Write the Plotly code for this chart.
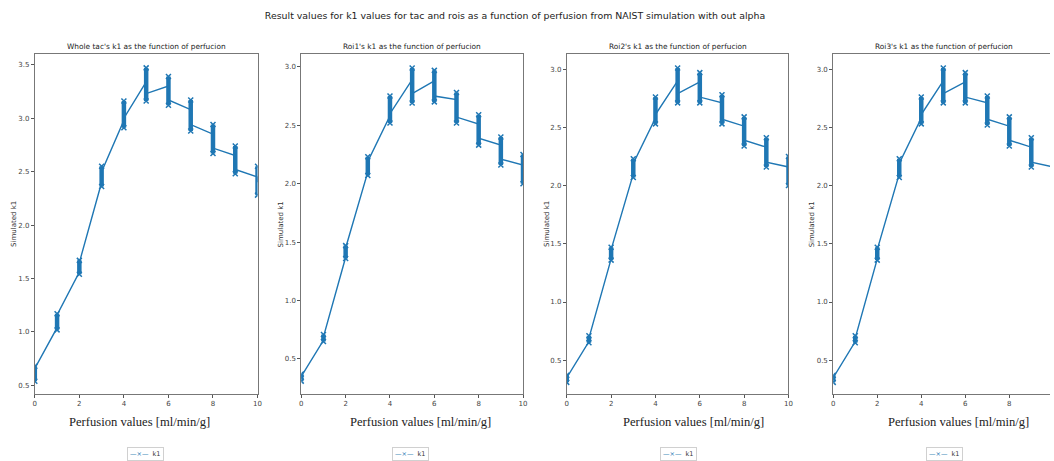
import plotly.graph_objects as go

perfusion = [0, 1, 2, 3, 4, 5, 6, 7, 8, 9, 10]

panel_titles = [
    "Whole tac's k1 as the function of perfucion",
    "Roi1's k1 as the function of perfucion",
    "Roi2's k1 as the function of perfucion",
    "Roi3's k1 as the function of perfucion",
]
series_name = "k1"

# spread of k1 at each perfusion value (min / max) and where the line enters / leaves it
whole_low = [0.54, 1.02, 1.54, 2.36, 2.91, 3.16, 3.12, 2.88, 2.67, 2.48, 2.28]
whole_high = [0.68, 1.17, 1.67, 2.55, 3.16, 3.47, 3.39, 3.17, 2.94, 2.74, 2.55]
whole_in = [0.62, 1.04, 1.56, 2.40, 2.98, 3.34, 3.30, 3.08, 2.85, 2.65, 2.45]
whole_out = [0.66, 1.16, 1.65, 2.50, 3.00, 3.23, 3.17, 2.94, 2.72, 2.52, 2.40]

roi1_low = [0.31, 0.65, 1.36, 2.07, 2.52, 2.69, 2.70, 2.52, 2.33, 2.16, 2.00]
roi1_high = [0.37, 0.71, 1.47, 2.23, 2.75, 2.99, 2.97, 2.78, 2.59, 2.40, 2.25]
roi1_in = [0.33, 0.66, 1.37, 2.10, 2.58, 2.89, 2.88, 2.72, 2.51, 2.33, 2.16]
roi1_out = [0.35, 0.69, 1.45, 2.19, 2.60, 2.77, 2.75, 2.57, 2.39, 2.21, 2.10]

roi2_low = [0.31, 0.65, 1.36, 2.07, 2.53, 2.71, 2.71, 2.53, 2.34, 2.16, 2.00]
roi2_high = [0.37, 0.71, 1.47, 2.23, 2.76, 3.01, 2.97, 2.78, 2.59, 2.41, 2.25]
roi2_in = [0.33, 0.66, 1.37, 2.10, 2.58, 2.90, 2.89, 2.71, 2.51, 2.33, 2.16]
roi2_out = [0.35, 0.69, 1.45, 2.19, 2.61, 2.79, 2.76, 2.57, 2.39, 2.20, 2.10]

roi3_low = [0.31, 0.65, 1.36, 2.07, 2.53, 2.71, 2.71, 2.52, 2.34, 2.16, 2.00]
roi3_high = [0.37, 0.71, 1.47, 2.23, 2.76, 3.01, 2.97, 2.77, 2.59, 2.41, 2.25]
roi3_in = [0.33, 0.66, 1.37, 2.10, 2.58, 2.90, 2.89, 2.71, 2.51, 2.33, 2.16]
roi3_out = [0.35, 0.69, 1.45, 2.19, 2.61, 2.79, 2.76, 2.57, 2.39, 2.20, 2.10]

panels = [
    (whole_low, whole_high, whole_in, whole_out),
    (roi1_low, roi1_high, roi1_in, roi1_out),
    (roi2_low, roi2_high, roi2_in, roi2_out),
    (roi3_low, roi3_high, roi3_in, roi3_out),
]

W, H = 1054, 461
BLUE = "#1f77b4"

# plot areas in pixels (left, right), common top/bottom
x_px = [(33, 257), (301, 524), (568, 791), (836, 1054)]
top_px, bot_px = 54, 394
y_ranges = [[0.42, 3.60], [0.20, 3.11], [0.21, 3.13], [0.21, 3.13]]
x_ranges = [[0, 10], [0, 10], [0, 10], [0, 9.85]]
title_px = [145, 412, 680, 947]
ytitle_px = [12, 281, 548, 815]
xlabel_px = [138, 421, 695, 962]
legend_px = [144, 411, 680, 948]

fig = go.Figure()

for i, (low, high, ent, ext) in enumerate(panels):
    xa = "x" if i == 0 else f"x{i+1}"
    ya = "y" if i == 0 else f"y{i+1}"
    # spread segments
    bx, by = [], []
    for p, lo, hi in zip(perfusion, low, high):
        bx += [p, p, None]
        by += [lo, hi, None]
    fig.add_trace(go.Scatter(
        x=bx, y=by, mode="lines+markers", xaxis=xa, yaxis=ya,
        line=dict(color=BLUE, width=4.5),
        marker=dict(symbol="x-thin", size=5, line=dict(color=BLUE, width=1.5)),
        showlegend=False, hoverinfo="skip",
    ))
    # connecting line
    lx, ly = [], []
    for p, a, b in zip(perfusion, ent, ext):
        lx += [p, p]
        ly += [a, b]
    fig.add_trace(go.Scatter(
        x=lx, y=ly, mode="lines", name=series_name, xaxis=xa, yaxis=ya,
        line=dict(color=BLUE, width=1.4), showlegend=False,
    ))

layout = dict(
    width=W, height=H,
    margin=dict(l=0, r=0, t=0, b=0),
    paper_bgcolor="white", plot_bgcolor="white",
    showlegend=False,
    font=dict(family="DejaVu Sans", color="#333"),
    title=dict(
        text="Result values for k1 values for tac and rois as a function of perfusion from NAIST simulation with out alpha",
        x=515 / W, xanchor="center", y=1 - 16 / H, yanchor="middle",
        font=dict(size=9.4, color="#222"),
    ),
    annotations=[],
)

for i in range(4):
    sx = "" if i == 0 else str(i + 1)
    l, r = x_px[i]
    layout[f"xaxis{sx}"] = dict(
        domain=[l / W, r / W], range=x_ranges[i], anchor=f"y{sx}",
        tickvals=[0, 2, 4, 6, 8, 10], ticks="outside", ticklen=3, tickcolor="#555",
        showgrid=False, zeroline=False, showline=True, linecolor="#777", linewidth=1,
        mirror=True, tickfont=dict(size=7, color="#444"),
    )
    layout[f"yaxis{sx}"] = dict(
        domain=[1 - bot_px / H, 1 - top_px / H], range=y_ranges[i], anchor=f"x{sx}",
        dtick=0.5, tick0=0.5, tickformat=".1f", ticks="outside", ticklen=3, tickcolor="#555",
        showgrid=False, zeroline=False, showline=True, linecolor="#777", linewidth=1,
        mirror=(i < 3), tickfont=dict(size=7, color="#444"),
    )
    layout["annotations"] += [
        dict(text=panel_titles[i], xref="paper", yref="paper",
             x=title_px[i] / W, y=1 - 47 / H, xanchor="center", yanchor="middle",
             showarrow=False, font=dict(size=7.4, color="#222")),
        dict(text="Simulated k1", xref="paper", yref="paper", x=ytitle_px[i] / W,
             y=1 - 224 / H, textangle=-90, xanchor="center", yanchor="middle",
             showarrow=False, font=dict(size=7, color="#333")),
        dict(text="Perfusion values [ml/min/g]", xref="paper", yref="paper",
             x=xlabel_px[i] / W, y=1 - 422 / H, xanchor="center", yanchor="middle",
             showarrow=False, font=dict(family="Liberation Serif", size=12.6, color="#222")),
        # legend box
        dict(text=f"<span style='color:{BLUE}'>—×—</span>&nbsp;&nbsp;{series_name}",
             xref="paper", yref="paper", x=legend_px[i] / W, y=1 - 454 / H,
             xanchor="center", yanchor="middle", showarrow=False,
             font=dict(size=6.5, color="#333"), bordercolor="#d0d0d0", borderwidth=1,
             borderpad=2, bgcolor="white"),
    ]

fig.update_layout(**layout)
fig.write_html("out.html")
